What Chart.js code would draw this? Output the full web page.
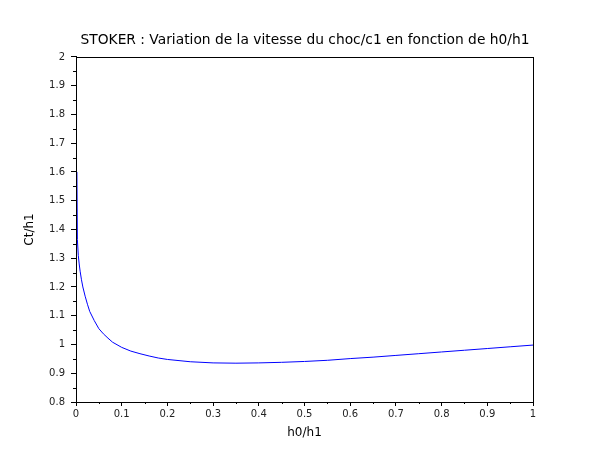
<!DOCTYPE html>
<html>
<head>
<meta charset="utf-8">
<script src="https://cdn.jsdelivr.net/npm/chart.js@4/dist/chart.umd.min.js"></script>
<style>
  body { margin: 0; background: #fff; }
  #graph { display: block; }
</style>
</head>
<body>
<canvas id="graph" width="610" height="460"></canvas>
<script>
// h0/h1 values (x) and Ct/h1 values (y)
const hRatio = [0.002, 0.003, 0.005, 0.007, 0.009, 0.012, 0.015, 0.02, 0.025, 0.03,
  0.04, 0.05, 0.06, 0.07, 0.08, 0.1, 0.12, 0.14, 0.16, 0.18,
  0.2, 0.25, 0.3, 0.35, 0.4, 0.45, 0.5, 0.55, 0.6, 0.65,
  0.7, 0.75, 0.8, 0.85, 0.9, 0.95, 1.0];
const ctRatio = [1.60, 1.365, 1.31, 1.28, 1.255, 1.225, 1.20, 1.168, 1.14, 1.115,
  1.083, 1.055, 1.037, 1.022, 1.008, 0.99, 0.977, 0.968, 0.960, 0.953,
  0.948, 0.940, 0.936, 0.935, 0.936, 0.938, 0.941, 0.945, 0.951, 0.956,
  0.962, 0.968, 0.974, 0.980, 0.986, 0.992, 0.998];

const xTicks = [0, 0.1, 0.2, 0.3, 0.4, 0.5, 0.6, 0.7, 0.8, 0.9, 1];
const yTicks = [0.8, 0.9, 1, 1.1, 1.2, 1.3, 1.4, 1.5, 1.6, 1.7, 1.8, 1.9, 2];

const chartTitle = 'STOKER : Variation de la vitesse du choc/c1 en fonction de h0/h1';
const xTitle = 'h0/h1';
const yTitle = 'Ct/h1';

const FONT = "'DejaVu Sans', sans-serif";

// minor ticks halfway between major ones + box around the plot
const frameAndMinorTicks = {
    id: 'frameAndMinorTicks',
    afterDraw(chart) {
        const ctx = chart.ctx;
        const area = chart.chartArea;
        const xs = chart.scales.x;
        const ys = chart.scales.y;
        ctx.save();
        ctx.strokeStyle = '#000';
        ctx.lineWidth = 1;
        ctx.beginPath();
        for (let i = 0; i < xTicks.length - 1; i++) {
            let px = Math.round(xs.getPixelForValue((xTicks[i] + xTicks[i + 1]) / 2)) + 0.5;
            ctx.moveTo(px, area.bottom);
            ctx.lineTo(px, area.bottom + 2);
        }
        for (let i = 0; i < yTicks.length - 1; i++) {
            let py = Math.round(ys.getPixelForValue((yTicks[i] + yTicks[i + 1]) / 2)) + 0.5;
            ctx.moveTo(area.left, py);
            ctx.lineTo(area.left - 3, py);
        }
        ctx.stroke();
        ctx.strokeRect(Math.round(area.left) + 0.5, Math.round(area.top) + 0.5,
            Math.round(area.right - area.left), Math.round(area.bottom - area.top));
        ctx.restore();
    }
};

let canvas = document.getElementById('graph').getContext('2d');
let points = hRatio.map((x, i) => ({ x: x, y: ctRatio[i] }));

new Chart(canvas, {
    type: 'scatter',
    data: {
        datasets: [{
            data: points,
            showLine: true,
            borderColor: '#0000ff',
            borderWidth: 1,
            pointRadius: 0,
            tension: 0
        }]
    },
    options: {
        responsive: false,
        animation: false,
        layout: { padding: 0 },
        plugins: {
            legend: { display: false },
            tooltip: { enabled: false },
            title: {
                display: true,
                text: chartTitle,
                color: '#000',
                font: { family: FONT, size: 13.8, weight: 'normal', lineHeight: 1.3 },
                padding: { top: 31, bottom: 8 }
            }
        },
        scales: {
            x: {
                type: 'linear',
                min: 0,
                max: 1,
                afterFit: (scale) => { scale.height = 58; },
                afterBuildTicks: (scale) => { scale.ticks = xTicks.map(v => ({ value: v })); },
                grid: { drawOnChartArea: false, drawTicks: true, tickLength: 4, color: '#000' },
                border: { color: '#000' },
                ticks: {
                    color: '#222',
                    padding: 2,
                    maxRotation: 0,
                    font: { family: FONT, size: 10 },
                    callback: (v) => String(Math.round(v * 10) / 10)
                },
                title: {
                    display: true,
                    text: xTitle,
                    color: '#000',
                    font: { family: FONT, size: 12 },
                    padding: { top: 0, bottom: 20 }
                }
            },
            y: {
                type: 'linear',
                min: 0.8,
                max: 2,
                afterFit: (scale) => { scale.width = 76; },
                afterBuildTicks: (scale) => { scale.ticks = yTicks.map(v => ({ value: v })); },
                grid: { drawOnChartArea: false, drawTicks: true, tickLength: 5, color: '#000' },
                border: { color: '#000' },
                ticks: {
                    color: '#222',
                    padding: 6,
                    font: { family: FONT, size: 10 },
                    callback: (v) => String(Math.round(v * 10) / 10)
                },
                title: {
                    display: true,
                    text: yTitle,
                    color: '#000',
                    font: { family: FONT, size: 12 },
                    padding: { top: 23, bottom: 0 }
                }
            },
            // empty right-hand axis, only keeps the blank margin on the right
            yRight: {
                type: 'linear',
                position: 'right',
                min: 0.8,
                max: 2,
                afterFit: (scale) => { scale.width = 77; },
                grid: { display: false },
                border: { display: false },
                ticks: { display: false }
            }
        }
    },
    plugins: [frameAndMinorTicks]
});
</script>
</body>
</html>
